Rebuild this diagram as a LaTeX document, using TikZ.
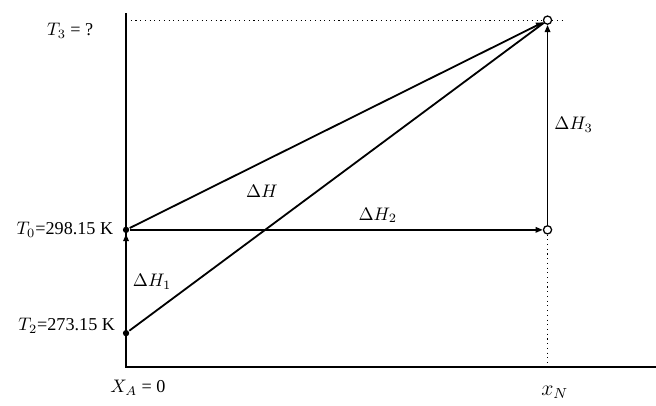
\documentclass[tikz,border=0pt]{standalone}
\usepackage{fontspec}
\setmainfont{Liberation Serif}
\usetikzlibrary{arrows.meta}

\begin{document}
\begin{tikzpicture}[line width=1pt,
    fdot/.style={circle,fill,inner sep=0pt,minimum size=3.5pt},
    odot/.style={circle,draw,fill=white,line width=0.7pt,inner sep=0pt,minimum size=4.5pt},
    flow/.style={-{Triangle[length=4pt,width=3pt]}},
    oflow/.style={-{Triangle[open,length=4pt,width=3pt]}},
    guide/.style={dotted,line width=0.6pt}]
    \useasboundingbox (0,0) rectangle (12.7,7.86);
    % points
    \coordinate (O) at (2.44,0.75);
    \coordinate (top) at (2.44,7.6);
    \coordinate (end) at (12.7,0.75);
    \node[fdot] (T2) at (2.44,1.41) {};
    \node[fdot] (T0) at (2.44,3.41) {};
    \node[odot] (N) at (10.6,3.41) {};
    \node[odot] (T3) at (10.6,7.47) {};
    \coordinate (T3a) at (T3 -| O);
    \coordinate (T3b) at (10.95,7.47);
    \coordinate (Nb) at (N |- O);
    % axes and guides
    \draw (top) -- (O) -- (end);
    \draw[guide] (T3a) -- (T3.west);
    \draw[guide] (T3.east) -- (T3b);
    \draw[guide] (N) -- (Nb);
    % the paths
    \draw[flow] (T2) -- (T0) node[midway,right] (dH1) {$\Delta H_1$};
    \draw[oflow] (T0) -- (N) node[pos=0.6,above] (dH2) {$\Delta H_2$};
    \draw[oflow] (N) -- (T3) node[midway,right] (dH3) {$\Delta H_3$};
    \draw[flow] (T0) -- (T3);
    \draw (T2) -- (T3);
    % labels
    \node (dH) at (5.07,4.16) {$\Delta H$};
    \node[anchor=east,xshift=-1pt] (t0) at (T0.west) {$T_0$=298.15 K};
    \node[anchor=east,yshift=4pt] (t2) at (T2.west) {$T_2$=273.15 K};
    \node (t3) at (1.36,7.26) {$T_3$ = ?};
    \node (xa) at (2.67,0.35) {$X_A$ = 0};
    \node[font=\large] (xn) at (10.74,0.27) {$x_N$};
\end{tikzpicture}
\end{document}
